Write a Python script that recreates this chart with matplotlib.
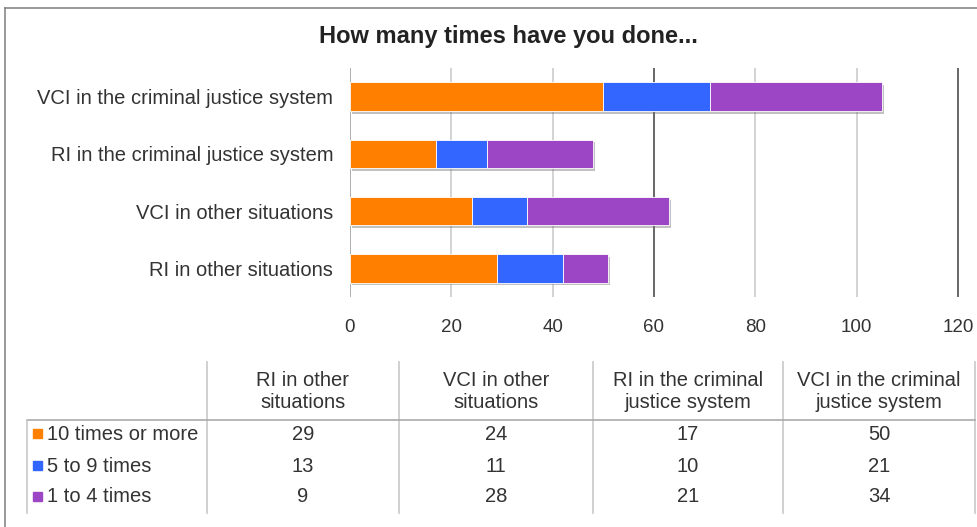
import matplotlib.pyplot as plt
import matplotlib.patheffects as pe

plt.rcParams['font.family'] = ['Liberation Sans', 'DejaVu Sans']

categories = ["RI in other situations", "VCI in other situations",
              "RI in the criminal justice system", "VCI in the criminal justice system"]
col_headers = ["RI in other\nsituations", "VCI in other\nsituations",
               "RI in the criminal\njustice system", "VCI in the criminal\njustice system"]
series_names = ["10 times or more", "5 to 9 times", "1 to 4 times"]
ten_plus = [29, 24, 17, 50]
five_nine = [13, 11, 10, 21]
one_four = [9, 28, 21, 34]
colors = ["#FF8000", "#3366FF", "#9C46C5"]
x_ticks = [0, 20, 40, 60, 80, 100, 120]

W, H = 978, 527
fig = plt.figure(figsize=(W / 100, H / 100), dpi=100)

# frame + table layer in pixel coordinates
bg = fig.add_axes([0, 0, 1, 1])
bg.set_xlim(0, W)
bg.set_ylim(H, 0)
bg.axis('off')
bg.plot([5, 5], [8, H], color='#888888', lw=1.2)
bg.plot([5, W], [8, 8], color='#888888', lw=1.2)

bg.text(508, 37, "How many times have you done...", ha='center', va='center',
        fontsize=17, fontweight='bold', color='#222222')

# chart (x range padded a touch so the 120 gridline is not on the edge)
ax = fig.add_axes([350 / W, 230 / H, 613 / W, 229 / H])
ypos = list(range(len(categories)))
shadow = [pe.SimplePatchShadow(offset=(1.5, -2), shadow_rgbFace='#777777', alpha=0.45), pe.Normal()]
left = [0] * len(categories)
for vals, col, name in zip([ten_plus, five_nine, one_four], colors, series_names):
    bars = ax.barh(ypos, vals, left=left, height=0.5, color=col, edgecolor='#ffffff',
                   linewidth=0.6, label=name, zorder=3)
    for b in bars:
        b.set_path_effects(shadow)
    left = [l + v for l, v in zip(left, vals)]

ax.set_xlim(0, 121)
ax.set_ylim(-0.5, 3.5)
ax.set_xticks(x_ticks)
ax.set_yticks(ypos)
ax.set_yticklabels(categories)
for t in x_ticks:
    dark = t in (60, 120)
    ax.axvline(t, color='#666666' if dark else ('#999999' if t == 0 else '#c8c8c8'),
               lw=1.4 if dark else 1.1, zorder=1)
for s in ax.spines.values():
    s.set_visible(False)
ax.tick_params(axis='both', length=0, colors='#333333')
ax.tick_params(axis='x', pad=16, labelsize=13.5)
ax.tick_params(axis='y', pad=12, labelsize=14.5)

# data table
col_edges = [207, 399, 593, 783, 975]
row_y = [434, 466, 497]
line_c = '#c8c8c8'
for xe in col_edges:
    bg.plot([xe, xe], [362, 513], color=line_c, lw=1.2)
bg.plot([27, 975], [420, 420], color='#aaaaaa', lw=1.2)
bg.plot([27, 27], [420, 513], color=line_c, lw=1.2)
for i, hdr in enumerate(col_headers):
    cx = (col_edges[i] + col_edges[i + 1]) / 2
    bg.text(cx, 391, hdr, ha='center', va='center', fontsize=14.5, color='#333333',
            linespacing=1.2)
for r, (name, vals, col) in enumerate(zip(series_names, [ten_plus, five_nine, one_four], colors)):
    y = row_y[r]
    bg.add_patch(plt.Rectangle((33, y - 5), 9, 9, color=col))
    bg.text(47, y, name, ha='left', va='center', fontsize=14.5, color='#333333')
    for i, v in enumerate(vals):
        cx = (col_edges[i] + col_edges[i + 1]) / 2
        bg.text(cx, y, str(v), ha='center', va='center', fontsize=14.5, color='#333333')

fig.savefig('out.png', dpi=100)
